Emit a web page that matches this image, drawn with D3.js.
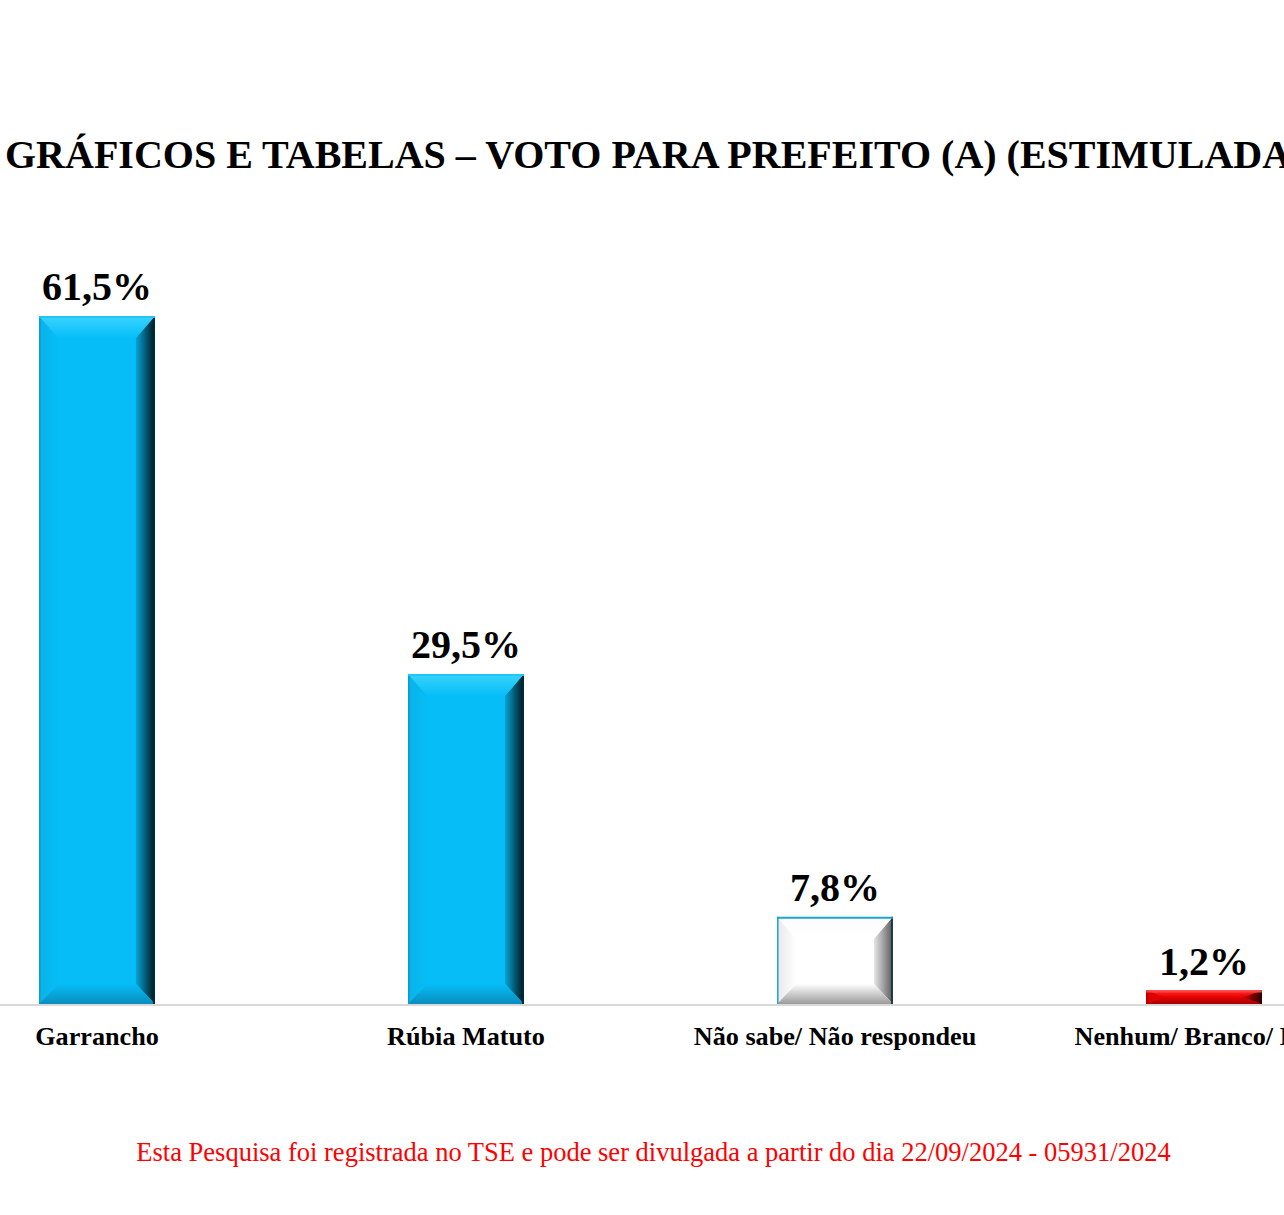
<!DOCTYPE html>
<html><head><meta charset="utf-8">
<script src="https://cdn.jsdelivr.net/npm/d3@7"></script>
<style>html,body{margin:0;padding:0;background:#fff;overflow:hidden}</style>
</head><body>
<script>
const categories = ["Garrancho", "Rúbia Matuto", "Não sabe/ Não respondeu", "Nenhum/ Branco/ Nulo"];
const values = [61.5, 29.5, 7.8, 1.2];
const valueLabels = ["61,5%", "29,5%", "7,8%", "1,2%"];
const titleText = "GRÁFICOS E TABELAS – VOTO PARA PREFEITO (A) (ESTIMULADA)";
const footerText = "Esta Pesquisa foi registrada no TSE e pode ser divulgada a partir do dia 22/09/2024 - 05931/2024";

const palettes = [
  {main:"#06bdf7", top:"#3ad4ff", left:"#0ab2e8", bottom:"#0a8dbd", right0:"#08a4d6", right1:"#00131a", edgeL:"#0a9ccc", edgeT:"#1fc6f7", edgeR:"#002a38"},
  {main:"#06bdf7", top:"#3ad4ff", left:"#0ab2e8", bottom:"#0a8dbd", right0:"#08a4d6", right1:"#00131a", edgeL:"#0a9ccc", edgeT:"#1fc6f7", edgeR:"#002a38"},
  {main:"#ffffff", top:"#fbfbfb", left:"#e8e8e8", bottom:"#9a9a9a", right0:"#e6e6e6", right1:"#5a5a5a", edgeL:"#19a6cf", edgeT:"#19a6cf", edgeR:"#1e3a44"},
  {main:"#e60000", top:"#ff2a2a", left:"#d80000", bottom:"#a00000", right0:"#c00000", right1:"#300000", edgeL:"#b00000", edgeT:"#ff4040", edgeR:"#300000"}
];

const W = 1284, H = 1215;
const svg = d3.select("body").append("svg").attr("width", W).attr("height", H);
const defs = svg.append("defs");

const x = d3.scaleBand().domain(categories).range([-87.5, 1388.5]).paddingInner(0.686).paddingOuter(0.343);
const y = d3.scaleLinear().domain([0, 70]).range([1004, 1004 - 70 * 11.187]);

// title
svg.append("text").attr("x", 5).attr("y", 168)
  .attr("font-family", "Liberation Serif, Times New Roman, serif").attr("font-weight", "bold")
  .attr("font-size", 40).attr("fill", "#000").text(titleText);

// baseline
svg.append("line").attr("x1", 0).attr("x2", W).attr("y1", y(0) + 1).attr("y2", y(0) + 1)
  .attr("stroke", "#d9d9d9").attr("stroke-width", 2);

const data = categories.map((c, i) => ({c, v: values[i], label: valueLabels[i], p: palettes[i], i}));

data.forEach(d => {
  const p = d.p;
  const gr = defs.append("linearGradient").attr("id", "gr" + d.i).attr("x1", 0).attr("x2", 1).attr("y1", 0).attr("y2", 0);
  gr.append("stop").attr("offset", 0).attr("stop-color", p.right0);
  gr.append("stop").attr("offset", 1).attr("stop-color", p.right1);
  const gb = defs.append("linearGradient").attr("id", "gb" + d.i).attr("x1", 0).attr("x2", 0).attr("y1", 0).attr("y2", 1);
  gb.append("stop").attr("offset", 0).attr("stop-color", p.main);
  gb.append("stop").attr("offset", 1).attr("stop-color", p.bottom);
  const gt = defs.append("linearGradient").attr("id", "gt" + d.i).attr("x1", 0).attr("x2", 0).attr("y1", 0).attr("y2", 1);
  gt.append("stop").attr("offset", 0).attr("stop-color", p.top);
  gt.append("stop").attr("offset", 1).attr("stop-color", p.main);
  const gl = defs.append("linearGradient").attr("id", "gl" + d.i).attr("x1", 0).attr("x2", 1).attr("y1", 0).attr("y2", 0);
  gl.append("stop").attr("offset", 0).attr("stop-color", p.left);
  gl.append("stop").attr("offset", 1).attr("stop-color", p.main);
});

const bars = svg.selectAll("g.bar").data(data).join("g").attr("class", "bar");

bars.each(function(d) {
  const g = d3.select(this);
  const x0 = x(d.c), w = x.bandwidth();
  const y0 = y(d.v), h = y(0) - y(d.v);
  const bt = Math.min(22, h / 2), bs = Math.min(19, w / 2), bb = Math.min(20, h / 2);
  const x1 = x0 + w, y1 = y0 + h;
  g.append("rect").attr("x", x0).attr("y", y0).attr("width", w).attr("height", h).attr("fill", d.p.main);
  const poly = (pts, fill) => g.append("polygon").attr("points", pts.map(q => q.join(",")).join(" ")).attr("fill", fill);
  poly([[x0, y0], [x0 + bs, y0 + bt], [x0 + bs, y1 - bb], [x0, y1]], `url(#gl${d.i})`);
  poly([[x1, y0], [x1, y1], [x1 - bs, y1 - bb], [x1 - bs, y0 + bt]], `url(#gr${d.i})`);
  poly([[x0, y1], [x1, y1], [x1 - bs, y1 - bb], [x0 + bs, y1 - bb]], `url(#gb${d.i})`);
  poly([[x0, y0], [x1, y0], [x1 - bs, y0 + bt], [x0 + bs, y0 + bt]], `url(#gt${d.i})`);
  g.append("line").attr("x1", x0 + 0.75).attr("x2", x0 + 0.75).attr("y1", y0).attr("y2", y1).attr("stroke", d.p.edgeL).attr("stroke-width", 1.5);
  g.append("line").attr("x1", x1 - 1).attr("x2", x1 - 1).attr("y1", y0).attr("y2", y1).attr("stroke", d.p.edgeR).attr("stroke-width", 2);
  g.append("line").attr("x1", x0).attr("x2", x1).attr("y1", y0 + 1).attr("y2", y0 + 1).attr("stroke", d.p.edgeT).attr("stroke-width", 2);
});

// value labels
svg.selectAll("text.val").data(data).join("text").attr("class", "val")
  .attr("x", d => x(d.c) + x.bandwidth() / 2).attr("y", d => y(d.v) - 16)
  .attr("text-anchor", "middle")
  .attr("font-family", "Liberation Serif, Times New Roman, serif").attr("font-weight", "bold")
  .attr("font-size", 40).attr("fill", "#000").text(d => d.label);

// category labels
svg.selectAll("text.cat").data(data).join("text").attr("class", "cat")
  .attr("x", d => x(d.c) + x.bandwidth() / 2).attr("y", 1045)
  .attr("text-anchor", "middle")
  .attr("font-family", "Liberation Serif, Times New Roman, serif").attr("font-weight", "bold")
  .attr("font-size", 26.2).attr("fill", "#000").text(d => d.c);

// footer
svg.append("text").attr("x", 653.5).attr("y", 1161).attr("text-anchor", "middle")
  .attr("font-family", "Liberation Serif, Times New Roman, serif")
  .attr("font-size", 26.5).attr("fill", "#ff0000").text(footerText);
</script>
</body></html>
